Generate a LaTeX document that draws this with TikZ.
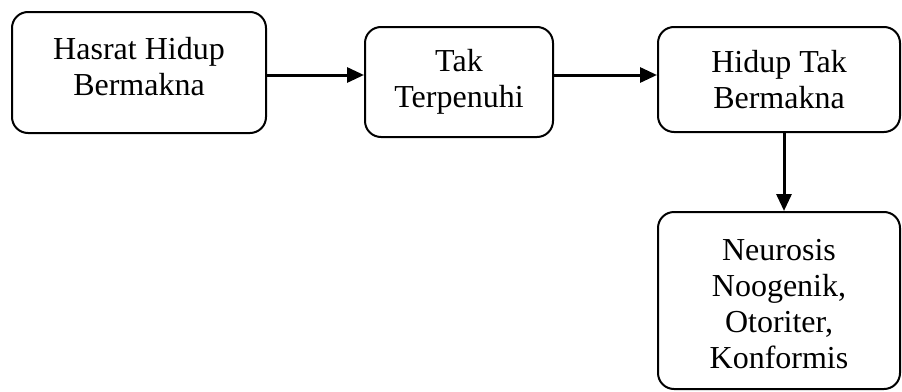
\documentclass[tikz,border=0pt]{standalone}
\usepackage{fontspec}
\setmainfont{Liberation Serif}
\usetikzlibrary{arrows.meta}
\begin{document}
\begin{tikzpicture}[x=1pt,y=-1pt,
  box/.style={draw=black, line width=2pt, rounded corners=16pt, align=center,
    font=\fontsize{32}{36}\selectfont, inner sep=0pt},
  txt/.style={align=center, font=\fontsize{32}{36}\selectfont, inner sep=0pt},
  arr/.style={line width=3pt, -{Triangle[length=17pt,width=15pt]}}]
\useasboundingbox (0,0) rectangle (902,391);
\node[box, minimum width=254pt, minimum height=121pt,
  label={[txt, yshift=6pt]center:Hasrat Hidup\\Bermakna}] (b1) at (139,72.5) {};
\node[box, minimum width=188pt, minimum height=110pt] (b2) at (459,82) {Tak\\Terpenuhi};
\node[box, minimum width=242pt, minimum height=105pt] (b3) at (779,79.5) {Hidup Tak\\Bermakna};
\node[box, minimum width=242pt, minimum height=177pt,
  label={[txt, yshift=-4pt]center:Neurosis\\Noogenik,\\Otoriter,\\Konformis}] (b4) at (779,300.5) {};
\draw[arr] (b1.east |- 0,75) -- (b2.west |- 0,75);
\draw[arr] (b2.east |- 0,75) -- (b3.west |- 0,75);
\draw[arr] (b3.south -| 784,0) -- (b4.north -| 784,0);
\end{tikzpicture}
\end{document}
